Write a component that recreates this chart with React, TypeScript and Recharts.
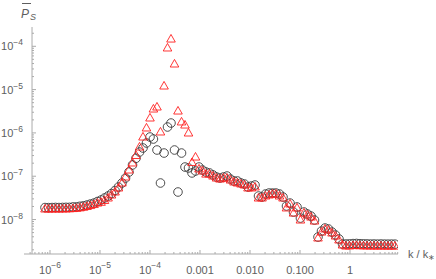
import React from 'react';
import { ScatterChart, Scatter, XAxis, YAxis, ReferenceLine } from 'recharts';

// k / k* grid
const kValues = [
  7.94e-7, 9.33e-7, 1.10e-6, 1.29e-6, 1.51e-6, 1.78e-6, 2.09e-6, 2.45e-6, 2.88e-6, 3.39e-6,
  3.98e-6, 4.68e-6, 5.50e-6, 6.46e-6, 7.59e-6, 8.91e-6, 1.05e-5, 1.23e-5, 1.45e-5, 1.70e-5,
  2.00e-5, 2.34e-5, 2.75e-5, 3.24e-5, 3.80e-5, 4.47e-5, 5.25e-5, 6.17e-5, 7.24e-5, 8.51e-5,
  1.00e-4, 1.17e-4, 1.38e-4, 1.62e-4, 1.91e-4, 2.24e-4, 2.63e-4, 3.09e-4, 3.63e-4, 4.27e-4,
  5.01e-4, 5.89e-4, 6.92e-4, 8.13e-4, 9.55e-4, 1.12e-3, 1.32e-3, 1.55e-3, 1.82e-3, 2.14e-3,
  2.51e-3, 2.95e-3, 3.47e-3, 4.07e-3, 4.79e-3, 5.62e-3, 6.61e-3, 7.76e-3, 9.12e-3, 1.07e-2,
  1.26e-2, 1.48e-2, 1.74e-2, 2.04e-2, 2.40e-2, 2.82e-2, 3.31e-2, 3.89e-2, 4.57e-2, 5.37e-2,
  6.31e-2, 7.41e-2, 8.71e-2, 0.102, 0.120, 0.141, 0.166, 0.195, 0.229, 0.269,
  0.316, 0.372, 0.437, 0.513, 0.603, 0.708, 0.832, 0.977, 1.15, 1.35,
  1.58, 1.86, 2.19, 2.57, 3.02, 3.55, 4.17, 4.90, 5.75, 6.76,
  7.94,
];

// black circles
const circleValues = [
  1.89e-8, 1.88e-8, 1.89e-8, 1.90e-8, 1.89e-8, 1.90e-8, 1.91e-8, 1.91e-8, 1.95e-8, 1.96e-8,
  2.02e-8, 2.07e-8, 2.16e-8, 2.28e-8, 2.40e-8, 2.61e-8, 2.82e-8, 3.14e-8, 3.49e-8, 3.98e-8,
  4.68e-8, 5.64e-8, 6.97e-8, 9.08e-8, 1.25e-7, 1.82e-7, 2.60e-7, 3.62e-7, 4.48e-7, 5.85e-7,
  8.04e-7, 7.23e-7, 4.03e-7, 6.97e-8, 3.43e-7, 1.37e-6, 1.69e-6, 4.03e-7, 4.32e-8, 3.43e-7,
  1.63e-7, 1.55e-7, 1.19e-7, 1.32e-7, 1.63e-7, 1.39e-7, 1.25e-7, 1.19e-7, 1.07e-7, 9.60e-8,
  9.08e-8, 9.60e-8, 1.01e-7, 8.60e-8, 7.75e-8, 7.75e-8, 6.97e-8, 6.61e-8, 5.64e-8, 5.94e-8,
  6.27e-8, 3.49e-8, 3.31e-8, 3.88e-8, 4.09e-8, 4.09e-8, 4.09e-8, 3.88e-8, 3.31e-8, 2.05e-8,
  2.40e-8, 1.49e-8, 1.95e-8, 1.08e-8, 1.49e-8, 1.34e-8, 1.20e-8, 9.73e-9, 3.94e-9, 5.42e-9,
  6.37e-9, 6.04e-9, 5.14e-9, 4.39e-9, 3.55e-9, 2.72e-9, 2.72e-9, 2.74e-9, 2.78e-9, 2.80e-9,
  2.76e-9, 2.75e-9, 2.73e-9, 2.72e-9, 2.72e-9, 2.71e-9, 2.72e-9, 2.71e-9, 2.70e-9, 2.71e-9,
  2.70e-9,
];

// red triangles
const triangleValues = [
  1.75e-8, 1.75e-8, 1.75e-8, 1.76e-8, 1.75e-8, 1.76e-8, 1.76e-8, 1.77e-8, 1.79e-8, 1.81e-8,
  1.86e-8, 1.92e-8, 2.00e-8, 2.10e-8, 2.22e-8, 2.40e-8, 2.50e-8, 2.75e-8, 3.14e-8, 3.68e-8,
  4.32e-8, 5.35e-8, 6.97e-8, 9.60e-8, 1.39e-7, 2.02e-7, 3.01e-7, 4.72e-7, 8.04e-7, 1.30e-6,
  2.21e-6, 3.56e-6, 3.96e-6, 1.05e-6, 1.21e-5, 9.14e-5, 1.47e-4, 3.90e-5, 3.20e-6, 1.79e-6,
  1.52e-6, 9.95e-7, 2.07e-7, 2.77e-7, 1.47e-7, 1.32e-7, 1.12e-7, 1.12e-7, 1.01e-7, 9.08e-8,
  8.60e-8, 9.08e-8, 9.08e-8, 8.17e-8, 7.35e-8, 6.97e-8, 6.61e-8, 6.27e-8, 5.35e-8, 5.35e-8,
  5.64e-8, 3.14e-8, 3.14e-8, 3.49e-8, 3.68e-8, 3.88e-8, 3.88e-8, 3.49e-8, 3.14e-8, 1.85e-8,
  2.28e-8, 1.41e-8, 1.85e-8, 9.73e-9, 1.41e-8, 1.27e-8, 1.14e-8, 9.23e-9, 3.74e-9, 5.14e-9,
  6.04e-9, 5.73e-9, 4.88e-9, 4.16e-9, 3.37e-9, 2.58e-9, 2.44e-9, 2.46e-9, 2.50e-9, 2.52e-9,
  2.48e-9, 2.47e-9, 2.46e-9, 2.45e-9, 2.45e-9, 2.44e-9, 2.45e-9, 2.44e-9, 2.43e-9, 2.44e-9,
  2.43e-9,
];

const xMajorTicks = [1e-6, 1e-5, 1e-4, 1e-3, 1e-2, 1e-1, 1];
const xMajorLabels = [['10', '−6'], ['10', '−5'], ['10', '−4'], ['0.001'], ['0.010'], ['0.100'], ['1']];
const yMajorTicks = [1e-8, 1e-7, 1e-6, 1e-5, 1e-4];
const yMajorLabels = ['−8', '−7', '−6', '−5', '−4'];

const xDomain = [3.02e-7, 9.12];
const yDomain = [1.6e-9, 2.79e-4];
const yAxisAt = 4.37e-7;

const axisColor = '#ababab';
const labelColor = '#5e5e5e';
const font = '"Liberation Sans", Arial, sans-serif';

function minorTicks(lo: number, hi: number, fromExp: number, toExp: number) {
  const out: number[] = [];
  for (let e = fromExp; e <= toExp; e++) {
    for (let m = 2; m <= 9; m++) {
      const v = m * Math.pow(10, e);
      if (v > lo && v < hi) out.push(v);
    }
  }
  return out;
}

const xTicks = [...xMajorTicks, ...minorTicks(xDomain[0], xDomain[1], -7, 0)];
const yTicks = [...yMajorTicks, ...minorTicks(yDomain[0], yDomain[1], -9, -4)];

const circleData = kValues.map((k, i) => ({ k, p: circleValues[i] }));
const triangleData = kValues.map((k, i) => ({ k, p: triangleValues[i] }));

const XTick = (props: any) => {
  const { x, y, payload } = props;
  const idx = xMajorTicks.indexOf(payload.value);
  const major = idx >= 0;
  const lab = major ? xMajorLabels[idx] : null;
  return (
    <g>
      <line x1={x} x2={x} y1={y} y2={y - (major ? 4 : 2)} stroke={axisColor} strokeWidth={1} />
      {lab && (
        <text x={x} y={y + 20} textAnchor="middle" fontFamily={font} fontSize={11} fill={labelColor}>
          {lab[0]}
          {lab[1] && <tspan dy={-6} fontSize={8.5}>{lab[1]}</tspan>}
        </text>
      )}
    </g>
  );
};

const YTick = (props: any) => {
  const { x, y, payload } = props;
  const idx = yMajorTicks.indexOf(payload.value);
  const major = idx >= 0;
  const ax = x + 8;
  return (
    <g>
      <line x1={ax} x2={ax + (major ? 4 : 2)} y1={y} y2={y} stroke={axisColor} strokeWidth={1} />
      {major && (
        <text x={ax - 9} y={y + 4} textAnchor="end" fontFamily={font} fontSize={11} fill={labelColor}>
          10
          <tspan dy={-5} fontSize={8.5}>{yMajorLabels[idx]}</tspan>
        </text>
      )}
    </g>
  );
};

const CircleMark = (props: any) => {
  const { cx, cy } = props;
  return <circle cx={cx} cy={cy} r={4.3} fill="none" stroke="#3a3a3a" strokeWidth={0.9} />;
};

const TriangleMark = (props: any) => {
  const { cx, cy } = props;
  const d = `M${cx},${cy - 4.6} L${cx + 4.3},${cy + 3} L${cx - 4.3},${cy + 3} Z`;
  return <path d={d} fill="none" stroke="#ff2020" strokeWidth={0.9} />;
};

export default function App() {
  return (
    <div style={{ position: 'absolute', left: 0, top: 0, width: 436, height: 279, background: '#fff' }}>
      <ScatterChart width={436} height={279} margin={{ top: 27, right: 38, bottom: 0, left: 0 }}>
        <XAxis
          type="number"
          dataKey="k"
          scale="log"
          domain={xDomain}
          allowDataOverflow
          ticks={xTicks}
          interval={0}
          tickSize={0}
          tickMargin={0}
          tick={<XTick />}
          height={25}
          stroke={axisColor}
        />
        <YAxis
          type="number"
          dataKey="p"
          scale="log"
          domain={yDomain}
          allowDataOverflow
          ticks={yTicks}
          interval={0}
          tickSize={0}
          tickMargin={0}
          tick={<YTick />}
          width={24}
          axisLine={false}
        />
        <ReferenceLine x={yAxisAt} stroke={axisColor} strokeWidth={1} ifOverflow="visible" />
        <Scatter data={circleData} shape={<CircleMark />} isAnimationActive={false} />
        <Scatter data={triangleData} shape={<TriangleMark />} isAnimationActive={false} />
      </ScatterChart>
      <svg width={436} height={279} style={{ position: 'absolute', left: 0, top: 0, pointerEvents: 'none' }}>
        <line x1={22} x2={31} y1={3.5} y2={3.5} stroke={labelColor} strokeWidth={1} />
        <text x={21} y={18} fontFamily={font} fontSize={12} fontStyle="italic" fill={labelColor}>
          P
          <tspan dx={1} dy={2} fontSize={9}>S</tspan>
        </text>
        <text x={408} y={258} fontFamily={font} fontSize={11} fill={labelColor}>
          k / k
          <tspan dy={2} fontSize={8}>∗</tspan>
        </text>
      </svg>
    </div>
  );
}
